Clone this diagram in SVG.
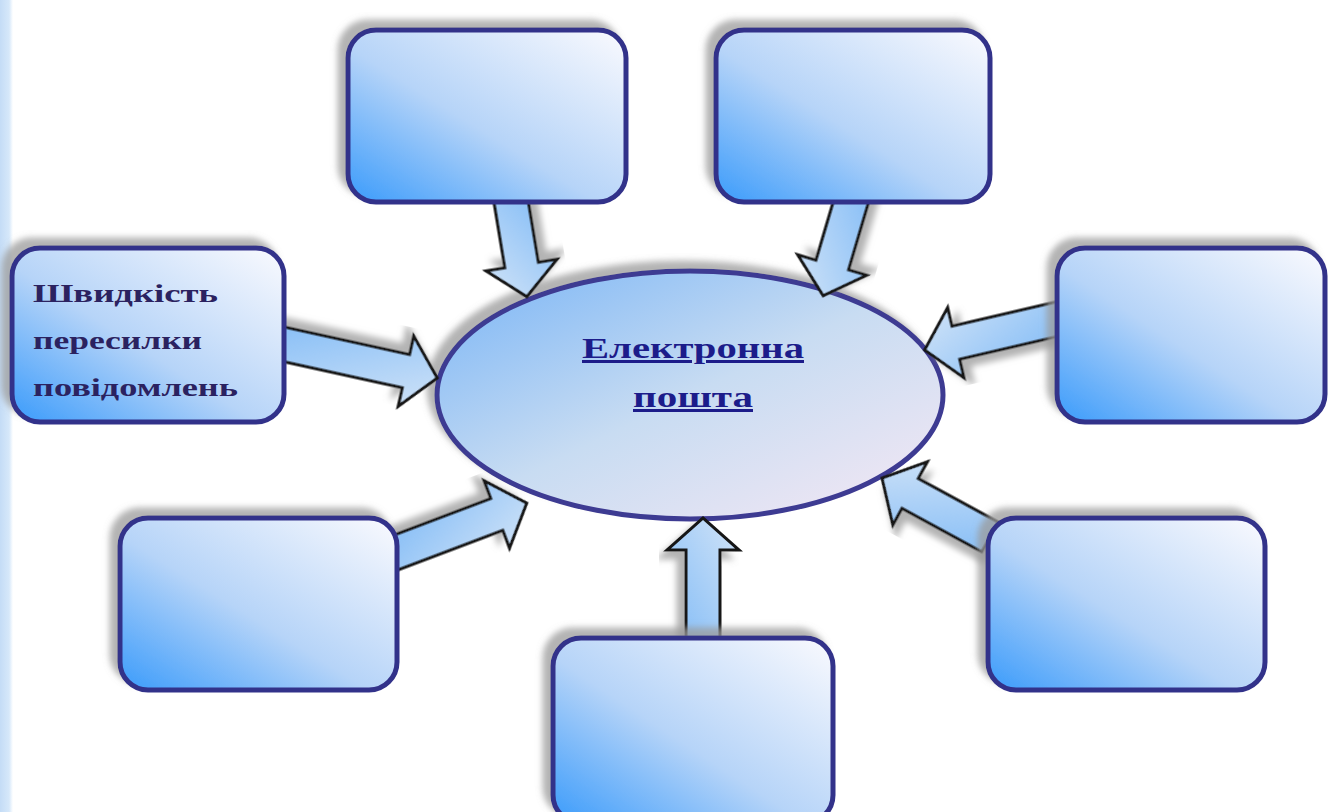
<svg xmlns="http://www.w3.org/2000/svg" width="1328" height="812" viewBox="0 0 1328 812">
<defs>
<linearGradient id="boxGrad" x1="0" y1="1" x2="1" y2="0">
<stop offset="0" stop-color="#3a9bfb"/>
<stop offset="0.45" stop-color="#b6d4f8"/>
<stop offset="1" stop-color="#fafafe"/>
</linearGradient>
<linearGradient id="ellGrad" x1="0" y1="0" x2="1" y2="1">
<stop offset="0" stop-color="#78b4f6"/>
<stop offset="0.5" stop-color="#c8dcf2"/>
<stop offset="1" stop-color="#f6e8f4"/>
</linearGradient>
<linearGradient id="arrGrad" x1="0" y1="0" x2="1" y2="1">
<stop offset="0" stop-color="#7fbaf6"/>
<stop offset="1" stop-color="#d2e4f8"/>
</linearGradient>
<linearGradient id="stripGrad" x1="0" y1="0" x2="1" y2="0">
<stop offset="0" stop-color="#c4dcf6"/>
<stop offset="0.7" stop-color="#d6e8fa"/>
<stop offset="1" stop-color="#ffffff"/>
</linearGradient>
<filter id="shadow" x="-10%" y="-10%" width="120%" height="120%">
<feGaussianBlur in="SourceAlpha" stdDeviation="3"/>
<feOffset dx="-8" dy="-8" result="b"/>
<feFlood flood-color="#9a9a9a" flood-opacity="0.75"/>
<feComposite in2="b" operator="in" result="s"/>
<feMerge><feMergeNode in="s"/><feMergeNode in="SourceGraphic"/></feMerge>
</filter>
</defs>
<style>
.box{fill:url(#boxGrad);stroke:#32318a;stroke-width:5;filter:url(#shadow)}
.arr{fill:url(#arrGrad);stroke:#141414;stroke-width:3;stroke-linejoin:miter;filter:url(#shadow)}
.lbl{font-family:"Liberation Serif","Times New Roman",serif;font-weight:bold;fill:#2b2260;font-size:25px}
.ctr{font-family:"Liberation Serif","Times New Roman",serif;font-weight:bold;fill:#1c1c8a;font-size:30px;text-decoration:underline}
</style>
<rect x="0" y="0" width="1328" height="812" fill="#ffffff"/>
<rect x="0" y="0" width="13" height="812" fill="url(#stripGrad)"/>

<g id="center">
<ellipse cx="690" cy="395" rx="253" ry="124" fill="url(#ellGrad)" stroke="#3d3a92" stroke-width="5" filter="url(#shadow)"/>
<text class="ctr" x="582" y="358" textLength="222" lengthAdjust="spacingAndGlyphs">Електронна</text>
<text class="ctr" x="633" y="407" textLength="120" lengthAdjust="spacingAndGlyphs">пошта</text>
</g>

<g id="connectors">
<path class="arr" transform="translate(510,195) rotate(80.6)" d="M0,-17 L71,-17 L71,-36 L103,0 L71,36 L71,17 L0,17 Z"/>
<path class="arr" transform="translate(853,195) rotate(106.5)" d="M0,-17 L73,-17 L73,-36 L105,0 L73,36 L73,17 L0,17 Z"/>
<path class="arr" transform="translate(278,343) rotate(12.4)" d="M0,-17 L131,-17 L131,-36 L163,0 L131,36 L131,17 L0,17 Z"/>
<path class="arr" transform="translate(1062,318) rotate(166.9)" d="M0,-17 L109,-17 L109,-36 L141,0 L109,36 L109,17 L0,17 Z"/>
<path class="arr" transform="translate(392,554) rotate(-20.7)" d="M0,-17 L112,-17 L112,-36 L144,0 L112,36 L112,17 L0,17 Z"/>
<path class="arr" transform="translate(990,537) rotate(208.6)" d="M0,-17 L91,-17 L91,-36 L123,0 L91,36 L91,17 L0,17 Z"/>
<path class="arr" transform="translate(703,645) rotate(-90)" d="M0,-17 L95,-17 L95,-36 L127,0 L95,36 L95,17 L0,17 Z"/>
</g>

<g id="box-top-left"><rect class="box" x="348" y="30" width="278" height="172" rx="28"/></g>
<g id="box-top-right"><rect class="box" x="716" y="30" width="274" height="172" rx="28"/></g>
<g id="box-left">
<rect class="box" x="12" y="248" width="272" height="174" rx="28"/>
<text class="lbl" x="33" y="302" textLength="185" lengthAdjust="spacingAndGlyphs">Швидкість</text>
<text class="lbl" x="33" y="349" textLength="169" lengthAdjust="spacingAndGlyphs">пересилки</text>
<text class="lbl" x="33" y="396" textLength="205" lengthAdjust="spacingAndGlyphs">повідомлень</text>
</g>
<g id="box-right"><rect class="box" x="1057" y="248" width="268" height="174" rx="28"/></g>
<g id="box-bottom-left"><rect class="box" x="120" y="518" width="277" height="172" rx="28"/></g>
<g id="box-bottom-right"><rect class="box" x="988" y="518" width="277" height="172" rx="28"/></g>
<g id="box-bottom"><rect class="box" x="553" y="638" width="280" height="185" rx="28"/></g>
</svg>
